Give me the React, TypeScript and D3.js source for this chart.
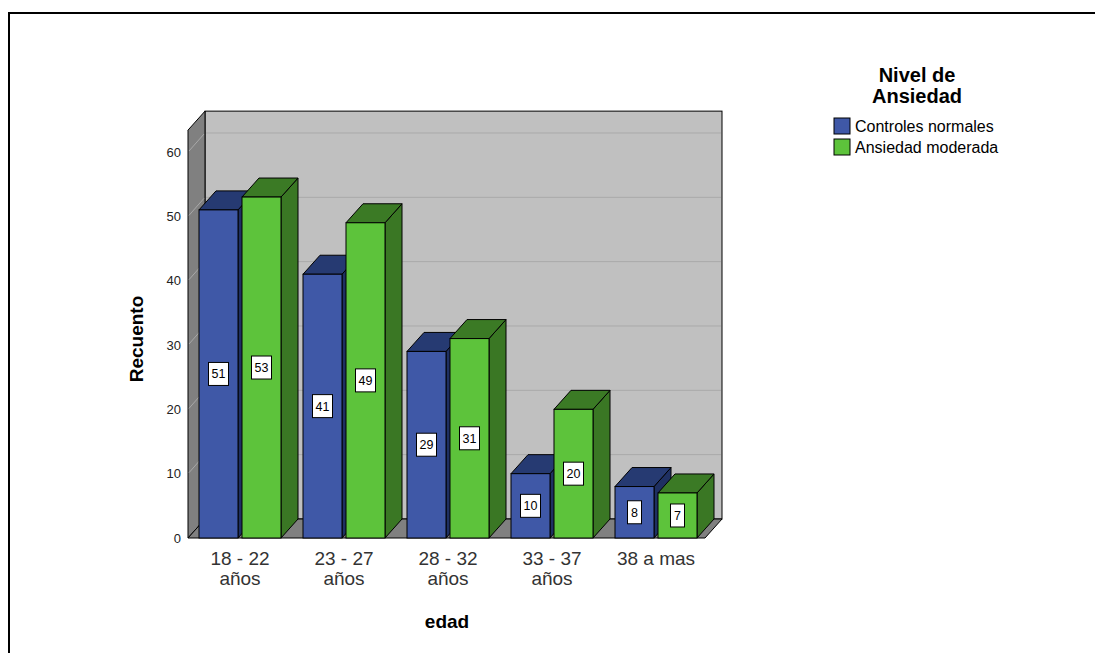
import React from 'react';
import * as d3 from 'd3';

const categories = ['18 - 22|años', '23 - 27|años', '28 - 32|años', '33 - 37|años', '38 a mas'];
const seriesNames = ['Controles normales', 'Ansiedad moderada'];
const controles = [51, 41, 29, 10, 8];
const moderada = [53, 49, 31, 20, 7];
const yTicks = [0, 10, 20, 30, 40, 50, 60];

const colors = [
  { front: '#3f58a7', top: '#263a72', side: '#1f3062' },
  { front: '#5dc33b', top: '#3b7a25', side: '#3a7724' },
];

const X0 = 188;
const X1 = 705;
const Y0 = 538;
const DX = 17;
const DY = -19;
const FONT = 'Liberation Sans, Arial, sans-serif';

export default function App() {
  const y = d3.scaleLinear().domain([0, 60]).range([Y0, 152]);
  const yTop = y(63.4);
  const x = d3.scaleBand<number>().domain(d3.range(categories.length)).range([X0, X0 + 520]).padding(0);
  const xs = d3.scaleBand<number>().domain([0, 1]).range([11, 93]).paddingInner(0.093).paddingOuter(0);
  const bw = xs.bandwidth();
  const values = [controles, moderada];

  const pts = (p: number[][]) => p.map((d) => d.join(',')).join(' ');

  return (
    <svg width={1095} height={653} style={{ position: 'absolute', left: 0, top: 0, background: '#fff' }}>
      <rect x={9} y={13} width={1200} height={700} fill="#fff" stroke="#000" strokeWidth={2} />

      {/* back wall */}
      <rect x={X0 + DX} y={yTop + DY} width={X1 - X0} height={Y0 - yTop} fill="#c0c0c0" stroke="#000" strokeWidth={1} />
      {/* left wall */}
      <polygon points={pts([[X0, yTop], [X0 + DX, yTop + DY], [X0 + DX, Y0 + DY], [X0, Y0]])} fill="#808080" stroke="#000" strokeWidth={1} />
      {/* floor */}
      <polygon points={pts([[X0, Y0], [X0 + DX, Y0 + DY], [X1 + DX, Y0 + DY], [X1, Y0]])} fill="#808080" stroke="#000" strokeWidth={1} />

      {yTicks.filter((t) => t > 0).map((t) => (
        <g key={t}>
          <line x1={X0 + DX + 1} x2={X1 + DX - 1} y1={y(t) + DY} y2={y(t) + DY} stroke="#a9a9a9" strokeWidth={1} />
          <line x1={X0 + 1} x2={X0 + DX - 1} y1={y(t) - 1} y2={y(t) + DY + 1} stroke="#a8a8a8" strokeWidth={1} />
        </g>
      ))}

      {yTicks.map((t) => (
        <text key={t} x={181} y={y(t) + 4.5} textAnchor="end" fontFamily={FONT} fontSize={13} fill="#222">{t}</text>
      ))}

      {categories.map((c, i) => (
        <g key={c}>
          {values.map((vals, s) => {
            const bx = (x(i) as number) + (xs(s) as number);
            const yt = y(vals[i]);
            const col = colors[s];
            return (
              <g key={s}>
                <polygon points={pts([[bx + bw, yt], [bx + bw + DX, yt + DY], [bx + bw + DX, Y0 + DY], [bx + bw, Y0]])} fill={col.side} stroke="#000" strokeWidth={1} />
                <polygon points={pts([[bx, yt], [bx + DX, yt + DY], [bx + bw + DX, yt + DY], [bx + bw, yt]])} fill={col.top} stroke="#000" strokeWidth={1} />
                <rect x={bx} y={yt} width={bw} height={Y0 - yt} fill={col.front} stroke="#000" strokeWidth={1} />
              </g>
            );
          })}
        </g>
      ))}

      {categories.map((c, i) => (
        <g key={'l' + c}>
          {values.map((vals, s) => {
            const bx = (x(i) as number) + (xs(s) as number);
            const cy = (y(vals[i]) + Y0) / 2;
            const w = vals[i] >= 10 ? 20 : 14;
            return (
              <g key={s}>
                <rect x={bx + bw / 2 - w / 2} y={cy - 11.5} width={w} height={23} fill="#fff" stroke="#000" strokeWidth={1} />
                <text x={bx + bw / 2} y={cy + 4.5} textAnchor="middle" fontFamily={FONT} fontSize={12.5} fill="#000">{vals[i]}</text>
              </g>
            );
          })}
        </g>
      ))}

      {categories.map((c, i) => {
        const cx = (x(i) as number) + x.bandwidth() / 2;
        return (
          <text key={'c' + c} x={cx} y={565} textAnchor="middle" fontFamily={FONT} fontSize={19} fill="#333">
            {c.split('|').map((line, k) => (
              <tspan key={k} x={cx} dy={k === 0 ? 0 : 20}>{line}</tspan>
            ))}
          </text>
        );
      })}

      <text x={447} y={628} textAnchor="middle" fontFamily={FONT} fontSize={19} fontWeight="bold" fill="#000">edad</text>
      <text transform={`translate(143,339) rotate(-90)`} textAnchor="middle" fontFamily={FONT} fontSize={19} fontWeight="bold" fill="#000">Recuento</text>

      <text x={917} y={82} textAnchor="middle" fontFamily={FONT} fontSize={20} fontWeight="bold" fill="#000">Nivel de</text>
      <text x={917} y={103} textAnchor="middle" fontFamily={FONT} fontSize={20} fontWeight="bold" fill="#000">Ansiedad</text>
      {seriesNames.map((n, s) => (
        <g key={n}>
          <rect x={834} y={118 + s * 21} width={16} height={16} fill={colors[s].front} stroke="#000" strokeWidth={1} />
          <text x={855} y={131.5 + s * 21} fontFamily={FONT} fontSize={16} fill="#000">{n}</text>
        </g>
      ))}
    </svg>
  );
}
